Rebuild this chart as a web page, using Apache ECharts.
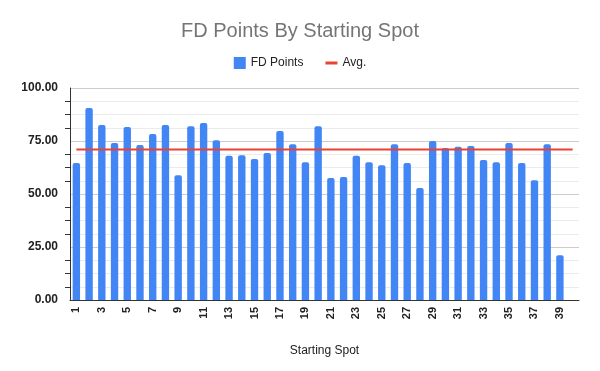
<!DOCTYPE html>
<html>
<head>
<meta charset="utf-8">
<script src="https://cdn.jsdelivr.net/npm/echarts@6/dist/echarts.min.js"></script>
<style>html,body{margin:0;padding:0;background:#fff}#c{width:600px;height:371px}</style>
</head>
<body>
<div id="c"></div>
<script>
const categories = ["1","2","3","4","5","6","7","8","9","10","11","12","13","14","15","16","17","18","19","20","21","22","23","24","25","26","27","28","29","30","31","32","33","34","35","36","37","38","39","40"];
const fdPoints = [64.6,90.6,82.5,74.0,81.6,73.1,78.3,82.5,58.9,82.0,83.5,75.4,68.0,68.3,66.5,69.3,79.7,73.5,65.0,82.0,57.5,58.0,68.0,65.0,63.6,73.5,64.6,52.8,75.0,71.7,72.3,72.6,66.0,65.0,74.0,64.6,56.5,73.5,21.1,null];
const avg = [71,71,71,71,71,71,71,71,71,71,71,71,71,71,71,71,71,71,71,71,71,71,71,71,71,71,71,71,71,71,71,71,71,71,71,71,71,71,71,71];
const yTicks = [0,25,50,75,100];

const chart = echarts.init(document.getElementById('c'), null, {renderer:'canvas'});
chart.setOption({
  animation:false,
  title:{text:'FD Points By Starting Spot',left:'center',top:16,textStyle:{fontFamily:'Liberation Sans, Arial, sans-serif',fontSize:20,fontWeight:'normal',color:'#757575'}},
  legend:{top:52,left:'center',itemGap:22,itemWidth:12,itemHeight:12,textStyle:{fontFamily:'Liberation Sans, Arial, sans-serif',fontSize:12,color:'#222'},
    data:[{name:'FD Points',icon:'rect'},{name:'Avg.',icon:'path://M0,0H16V4H0Z'}]},
  grid:{left:70,right:21,top:88,bottom:71},
  xAxis:{type:'category',data:categories,name:'Starting Spot',nameLocation:'middle',nameGap:45,
    nameTextStyle:{fontFamily:'Liberation Sans, Arial, sans-serif',fontSize:12,color:'#222'},
    axisLine:{lineStyle:{color:'#333',width:1}},axisTick:{show:false},
    axisLabel:{interval:1,rotate:90,margin:7,fontFamily:'Liberation Sans, Arial, sans-serif',fontSize:11,fontWeight:'bold',color:'#222'}},
  yAxis:{type:'value',min:yTicks[0],max:yTicks[yTicks.length-1],interval:25,
    axisLine:{show:true,lineStyle:{color:'#333'}},axisTick:{show:false},
    minorTick:{show:true,splitNumber:4,length:5,lineStyle:{color:'#333'}},
    minorSplitLine:{show:true,lineStyle:{color:'#ebebeb'}},
    splitLine:{lineStyle:{color:'#cccccc'}},
    axisLabel:{margin:12,formatter:v=>v.toFixed(2),fontFamily:'Liberation Sans, Arial, sans-serif',fontSize:12,fontWeight:'bold',color:'#222'}},
  series:[
    {name:'FD Points',type:'bar',data:fdPoints,barWidth:'58%',itemStyle:{color:'#4285F4',borderRadius:[2,2,0,0]}},
    {name:'Avg.',type:'line',data:avg,symbol:'none',lineStyle:{color:'#EA4335',width:2},itemStyle:{color:'#EA4335'}}
  ]
});
</script>
</body>
</html>
